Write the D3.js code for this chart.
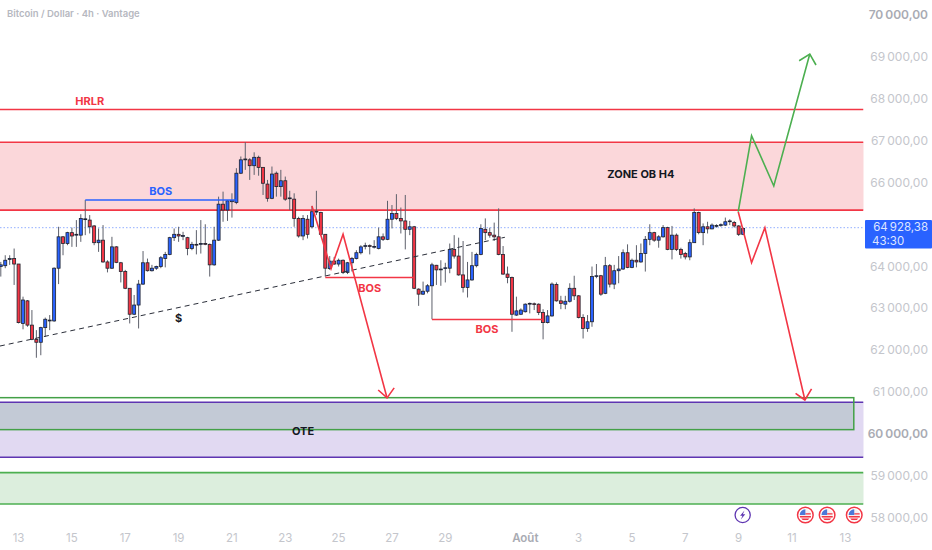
<!DOCTYPE html>
<html><head><meta charset="utf-8">
<script src="https://cdn.jsdelivr.net/npm/d3@7/dist/d3.min.js"></script>
<style>html,body{margin:0;padding:0;background:#fff}svg{display:block}text{font-family:Inter,Roboto,"Noto Sans",sans-serif}</style>
</head><body><svg id="c" width="932" height="550"></svg>
<script>
const title = "Bitcoin / Dollar · 4h · Vantage";
const opens = [64000,64020,64170,64190,64060,62640,63180,62600,62260,62190,62540,62700,62700,63960,64710,64550,64810,64750,64750,65130,65110,64970,64570,64630,64110,63960,64470,64090,63880,63480,62860,63080,63580,64090,63900,63960,64000,64190,64290,64690,64770,64730,64690,64430,64530,64540,64550,64530,64040,64630,65490,65350,65550,65530,66230,66550,66550,66410,66610,66370,65970,65630,66230,65910,66050,65630,65610,65150,64730,65130,64950,65310,65290,64770,63950,64130,64060,64150,63860,64090,64190,64330,64490,64500,64470,64430,64710,64650,65130,65270,65150,65090,64890,64950,63460,63340,63410,63540,64030,63930,63960,63960,64410,64250,63800,63500,63680,64020,64290,64890,64810,64750,64710,64290,63820,63740,62840,62860,62920,63110,63110,63100,62900,62660,62820,63570,63180,63100,63170,63480,63300,62780,62520,62680,63770,63780,63360,64020,63580,63900,63940,64330,63980,64150,64110,64310,64650,64810,64630,64710,64930,64410,64750,64410,64310,64230,64570,65290,64810,64950,64900,64970,64990,64990,65080,65050,64970,64770];
const highs = [64110,64270,64270,64430,64060,63280,63200,62960,62480,62560,62780,62840,63980,64950,64730,64830,64930,65110,65250,65590,65230,64990,64910,64990,64150,64710,64490,64110,63920,63480,63320,63680,64370,64190,64040,64020,64250,64350,64710,64910,64950,64830,64710,64590,64870,65110,65010,64550,64950,65670,65790,65590,65750,66350,66630,66970,66590,66730,66650,66370,66070,66390,66270,66310,66150,65810,65750,65190,65230,65230,65450,65810,65310,64770,64250,64230,64190,64170,64110,64230,64390,64510,64570,64530,64630,64930,64790,65570,65470,65730,65410,65710,65090,64970,63480,63640,63580,64090,64040,64150,64090,64550,64750,64690,64610,64110,64350,64330,65010,65150,64930,65050,65390,64490,64000,63760,63280,63000,63120,63140,63140,63120,62980,62960,63620,63620,63300,63300,63600,63780,63320,62860,62840,64000,64060,63800,64230,64060,64040,64250,64410,64530,64190,64510,64550,64730,65010,64830,64750,64990,64950,64970,64790,64450,64350,64650,65390,65310,65030,65070,65030,65010,65030,65170,65130,65090,64990,64930];
const lows = [63760,63960,64040,63560,62640,62500,62560,62240,61820,61880,62320,62480,62680,63580,64270,64510,64470,64470,64590,64750,64790,64510,64350,64090,63860,63940,64080,63620,63460,62640,62840,62520,63560,63880,63880,63920,63960,63980,64270,64610,64590,64630,64270,64390,64290,64310,64510,63760,64020,64610,65070,65090,65170,65490,66210,66310,66070,66190,66170,65710,65550,65610,65670,65670,65570,65350,64950,64690,64630,64670,64910,65230,64750,63760,63920,64040,64000,63820,63820,63880,64170,64290,64410,64290,64430,64410,64610,64630,64910,65110,64790,64410,64750,63460,63060,63320,63360,62740,63560,63540,63620,63840,64190,63780,63380,63260,63660,63980,64270,64630,64690,64610,64270,63800,63600,62440,62820,62840,62900,62880,62960,62840,62260,62640,62800,63160,62980,62980,63140,63200,62760,62280,62440,62560,63720,63300,63340,63500,63460,63600,63920,63960,63960,63980,64090,63880,64510,64590,64450,64690,64390,64170,64370,64190,64170,64150,64570,64770,64510,64790,64890,64930,64950,64970,64990,64930,64730,64750];
const closes = [64040,64150,64190,64060,62660,63200,62600,62260,62190,62540,62740,62720,63960,64710,64550,64810,64730,64770,65150,65140,64950,64570,64630,64110,63960,64470,64100,63880,63480,62860,63080,63580,64090,63900,63960,64000,64210,64290,64690,64770,64730,64740,64430,64530,64520,64550,64540,64040,64630,65490,65350,65570,65580,66230,66550,66570,66410,66610,66370,65990,65630,66210,65910,66050,65610,65640,65150,64730,65150,64770,65310,65320,64770,63960,64130,64060,64150,63860,64090,64190,64330,64470,64500,64490,64480,64710,64650,65130,65270,65150,65090,64890,64950,63480,63340,63410,63540,64040,63920,63940,63970,64410,64250,63800,63500,63680,64020,64290,64910,64810,64750,64710,64290,63820,63740,62860,62940,62960,63100,63120,63100,62900,62660,62820,63580,63180,63120,63170,63480,63300,62780,62520,62680,63760,63780,63340,64020,63580,63900,63940,64330,63980,64150,64110,64310,64650,64810,64630,64710,64930,64410,64750,64410,64290,64230,64570,65290,64810,64950,64900,64990,64980,65000,65070,65090,64970,64770,64910];

const priceTicks = [70000,69000,68000,67000,66000,64000,63000,62000,61000,60000,59000,58000];
const boldPrices = [70000,60000];
const timeBars = [4,16,28,40,52,64,76,88,100,118,130,142,154,166,178,190];
const timeLabels = ["13","15","17","19","21","23","25","27","29","Août","3","5","7","9","11","13"];

const lastPrice = 64928.38, lastLabel = "64\u2009928,38", countdown = "43:30";
const hrlrLevel = 67753;
const obZone = [66970, 65350];
const purpleZone = [60756, 59442];
const greenZone = [59074, 58326];
const oteBox = {from:-5, to:191.9, top:60866, bottom:60102};
const bosBlue = [[19,65590],[53,65590]];
const bosRed1 = [[73,63736],[93,63736]];
const bosRed2 = [[97,62736],[122,62736]];
const trend = [[-0.2,62100],[113.4,64699]];
const redPath1 = [[70,65447],[74.3,63948],[77,64770],[86.9,60860]];
const redArrow1 = [[84.9,61050],[86.9,60860],[88.5,61100]];
const redPath2 = [[165.9,65310],[168.9,64092],[171.9,64928],[180.9,60810]];
const redArrow2 = [[178.8,60970],[180.9,60810],[182.4,61075]];
const greenPath = [[165.9,65310],[168.9,67127],[173.9,65925],[182,69079]];
const greenArrow = [[179.6,68919],[182,69079],[183.4,68816]];
const labels = [
  {t:"HRLR", b:20, p:67864, c:"#f23645"},
  {t:"BOS", b:36, p:65720, c:"#2962ff"},
  {t:"BOS", b:83, p:63385, c:"#f23645"},
  {t:"BOS", b:109.4, p:62405, c:"#f23645"},
  {t:"$", b:40, p:62680, c:"#131722"},
  {t:"OTE", b:68, p:59975, c:"#131722"},
  {t:"ZONE OB H4", b:144, p:66115, c:"#131722"}
];
const eventBars = [166.9,181,185.9,192];

const svg = d3.select("#c");
const paneW = 863.5;
const x = d3.scaleLinear().domain([0,190]).range([0.8, 0.8+190*4.445]);
const y = d3.scaleLinear().domain([67000,58000]).range([141,517.6]);
svg.append("defs").append("clipPath").attr("id","pane").append("rect").attr("width",paneW).attr("height",528);
const g = svg.append("g").attr("clip-path","url(#pane)");
const line = d3.line().x(d=>x(d[0])).y(d=>y(d[1]));

function fillBand(a,b,fill){ g.append("rect").attr("x",-2).attr("width",paneW+4).attr("y",y(a)).attr("height",y(b)-y(a)).attr("fill",fill); }
function hLines(vals,stroke,sw){ vals.forEach(v=>g.append("line").attr("x1",0).attr("x2",paneW).attr("y1",y(v)).attr("y2",y(v)).attr("stroke",stroke).attr("stroke-width",sw)); }
fillBand(obZone[0],obZone[1],"#fbd7da");
fillBand(purpleZone[0],purpleZone[1],"#e1d9f2");
fillBand(greenZone[0],greenZone[1],"#dceedd");
g.append("rect").attr("x",-2).attr("width",x(oteBox.to)+2).attr("y",y(purpleZone[0])).attr("height",y(oteBox.bottom)-y(purpleZone[0])).attr("fill","#c3cad6");
hLines(obZone,"#f23645",1.7);
hLines(purpleZone,"#5e35b1",1.5);
hLines(greenZone,"#4caf50",1.6);
hLines([hrlrLevel],"#f23645",1.6);
g.append("rect").attr("x",x(oteBox.from)).attr("width",x(oteBox.to)-x(oteBox.from)).attr("y",y(oteBox.top)).attr("height",y(oteBox.bottom)-y(oteBox.top))
 .attr("fill","none").attr("stroke","#43a047").attr("stroke-width",1.5);
g.append("line").attr("x1",0).attr("x2",paneW).attr("y1",y(lastPrice)).attr("y2",y(lastPrice)).attr("stroke","#2962ff").attr("stroke-opacity",.5).attr("stroke-dasharray","1.5 2");

const bars = d3.range(opens.length).map(i=>({i,o:opens[i],h:highs[i],l:lows[i],c:closes[i]}));
const cg = g.append("g");
cg.selectAll("line").data(bars).join("line").attr("x1",d=>x(d.i)).attr("x2",d=>x(d.i)).attr("y1",d=>y(d.h)).attr("y2",d=>y(d.l)).attr("stroke","#5d606b").attr("stroke-width",1);
cg.selectAll("rect").data(bars).join("rect")
  .attr("x",d=>x(d.i)-1.5).attr("width",3)
  .attr("y",d=>y(Math.max(d.o,d.c))).attr("height",d=>Math.max(0.8,Math.abs(y(d.o)-y(d.c))))
  .attr("fill",d=>d.c>=d.o?"#2962ff":"#f23645").attr("stroke","#1e222d").attr("stroke-width",0.8);

g.append("path").attr("d",line(trend)).attr("fill","none").attr("stroke","#2a2e39").attr("stroke-width",1).attr("stroke-dasharray","5 4");
[[bosBlue,"#2962ff"],[bosRed1,"#f23645"],[bosRed2,"#f23645"]].forEach(([d,c])=>g.append("path").attr("d",line(d)).attr("fill","none").attr("stroke",c).attr("stroke-width",1.5));
[[redPath1,"#f23645"],[redArrow1,"#f23645"],[redPath2,"#f23645"],[redArrow2,"#f23645"],[greenPath,"#4caf50"],[greenArrow,"#4caf50"]].forEach(([d,c])=>
  g.append("path").attr("d",line(d)).attr("fill","none").attr("stroke",c).attr("stroke-width",1.6));

labels.forEach(l=>g.append("text").attr("x",x(l.b)).attr("y",y(l.p)).attr("text-anchor","middle").attr("font-size",11).attr("font-weight",700).attr("fill",l.c).text(l.t));

svg.append("text").attr("x",7).attr("y",16.5).attr("font-size",9.5).attr("font-weight",600).attr("fill","#b6b8bf").text(title);

priceTicks.forEach(p=>{
  const b=boldPrices.includes(p);
  svg.append("text").attr("x",928).attr("y",y(p)+4).attr("text-anchor","end").attr("font-size",12).attr("font-weight",b?600:400)
   .attr("fill",b?"#a9abb3":"#c4c6cc").text(d3.format(",.2f")(p).replace(",","\u2009").replace(".",","));
});
svg.append("rect").attr("x",865).attr("y",220).attr("width",67).attr("height",28.5).attr("fill","#2962ff").attr("rx",1);
svg.append("text").attr("x",928).attr("y",231).attr("text-anchor","end").attr("font-size",11.5).attr("fill","#dfe6ff").text(lastLabel);
svg.append("text").attr("x",872).attr("y",244.5).attr("font-size",11.5).attr("fill","#dfe6ff").text(countdown);

timeBars.forEach((b,i)=>svg.append("text").attr("x",x(b)).attr("y",542).attr("text-anchor","middle").attr("font-size",11.5).attr("font-weight",timeLabels[i]==="Août"?600:400)
  .attr("fill",timeLabels[i]==="Août"?"#a9abb3":"#c4c6cc").text(timeLabels[i]));

eventBars.forEach((b,i)=>{
  const cx=x(b), cy=515;
  const e=svg.append("g").attr("transform",`translate(${cx},${cy})`);
  if(i===0){
    e.append("circle").attr("r",7.6).attr("fill","#fff").attr("stroke","#5e35b1").attr("stroke-width",1.3);
    e.append("path").attr("d","M1.8,-4.5 L-2.6,0.8 L-0.2,0.8 L-1.8,4.5 L2.6,-0.8 L0.2,-0.8 Z").attr("fill","#5e35b1");
  } else {
    e.append("circle").attr("r",7.8).attr("fill","#fff").attr("stroke","#f23645").attr("stroke-width",1.5);
    e.append("circle").attr("r",5.8).attr("fill","#f8f0f0");
    e.append("path").attr("d","M-5.6,1 H5.6 V2.6 H-5.2 Z M-4,3.6 H4 L2.6,5 H-2.6 Z M0,-1.8 H5.4 V-0.4 H0 Z").attr("fill","#f23645");
    e.append("path").attr("d","M-5.6,0 A5.8,5.8 0 0 1 0,-5.8 V0 Z").attr("fill","#4a78d8");
  }
});
</script></body></html>
